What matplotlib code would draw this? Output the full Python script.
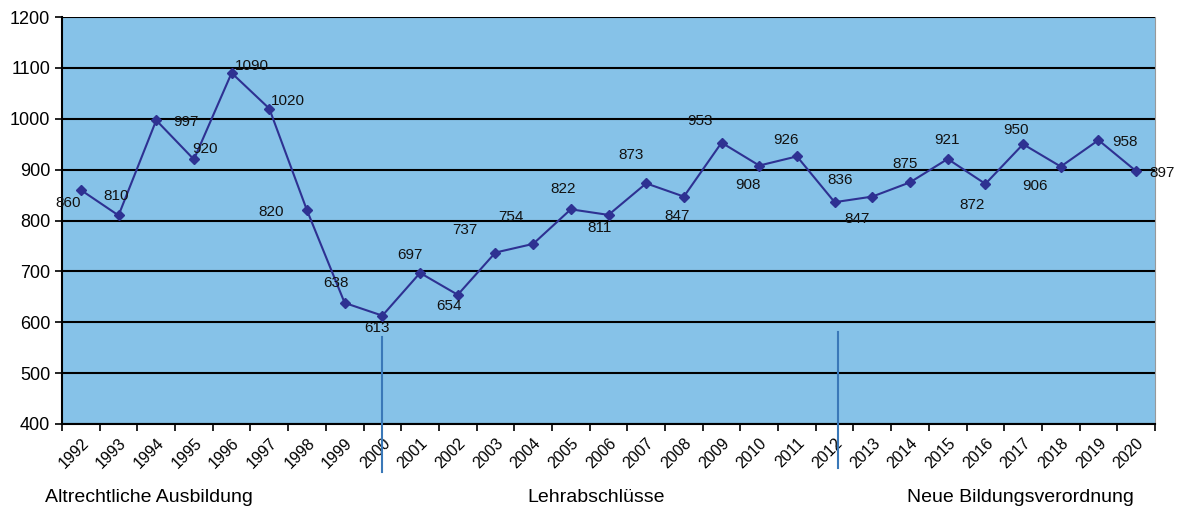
import numpy as np
import matplotlib.pyplot as plt

plt.rcParams['font.family'] = ['Liberation Sans', 'DejaVu Sans']

# Jahre und Lehrabschluesse
years = [str(y) for y in range(1992, 2021)]
values = [860, 810, 997, 920, 1090, 1020, 820, 638, 613, 697, 654, 737, 754,
          822, 811, 873, 847, 953, 908, 926, 836, 847, 875, 921, 872, 950,
          906, 958, 897]

# Lage der Beschriftungen (Pixel relativ zum Punkt)
label_dx = [-13, -2, 30, 11, 20, 19, -36, -9, -5, -10, -9, -31, -22,
            -8, -9, -15, -7, -22, -11, -11, 5, -15, -5, -1, -13, -7,
            -26, 27, 26]
label_dy = [13, -19, 2, -10, -7, -8, 2, -20, 12, -18, 11, -23, -27,
            -20, 13, -28, 19, -22, 19, -16, -22, 22, -18, -19, 21, -14,
            19, 2, 2]

phases = ['Altrechtliche Ausbildung', 'Lehrabschlüsse', 'Neue Bildungsverordnung']

fig = plt.figure(figsize=(11.9, 5.14), dpi=100)
ax = fig.add_axes([62/1190, 1 - 424/514, 1093/1190, 407/514])
ax.set_facecolor('#86c2e8')

x = np.arange(len(years))
ax.plot(x, values, color='#2e3192', lw=1.5, marker='D', ms=5, zorder=3)

for i, v in enumerate(values):
    ax.annotate(str(v), (x[i], v), xytext=(label_dx[i], -label_dy[i]),
                textcoords='offset pixels', ha='center', va='center',
                fontsize=11, color='#111111', zorder=4)

ax.set_ylim(400, 1200)
ax.set_yticks(range(400, 1201, 100))
ax.yaxis.grid(True, color='black', lw=1.5)
ax.set_axisbelow(True)
ax.set_xlim(-0.5, len(years) - 0.5)
ax.set_xticks(x)
ax.set_xticklabels(years, rotation=45, ha='right', rotation_mode='anchor',
                   fontsize=11.5)
ax.set_xticks(np.arange(-0.5, len(years)), minor=True)
ax.tick_params(axis='x', which='major', length=0, pad=8)
ax.tick_params(axis='x', which='minor', length=5, width=1.2)
ax.tick_params(axis='y', length=5, width=1.2, labelsize=13)

for s in ['left', 'bottom']:
    ax.spines[s].set_linewidth(1.5)
ax.spines['top'].set_visible(False)
ax.spines['right'].set_color('#999999')

# Trennlinien der Phasen
ax.plot([8.0, 8.0], [571, 306], color='#3a78b8', lw=1.5, clip_on=False, zorder=5)
ax.plot([20.08, 20.08], [581, 314], color='#3a78b8', lw=1.5, clip_on=False, zorder=5)

fig.text(45/1190, 1 - 497/514, phases[0], fontsize=14, va='center', ha='left')
fig.text(596/1190, 1 - 497/514, phases[1], fontsize=14, va='center', ha='center')
fig.text(1020/1190, 1 - 497/514, phases[2], fontsize=14, va='center', ha='center')

fig.savefig('out.png', dpi=100)
